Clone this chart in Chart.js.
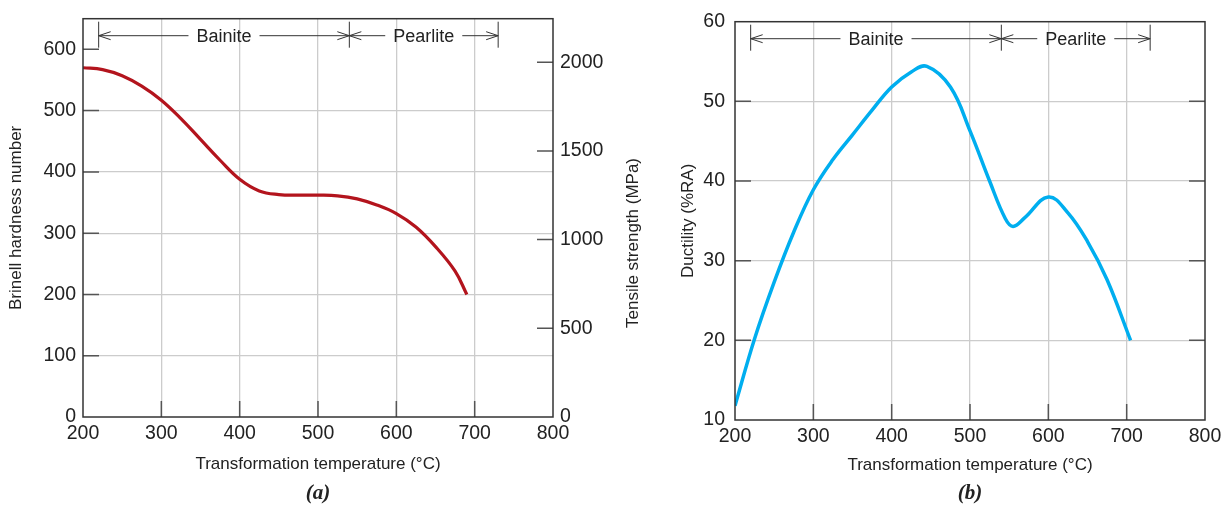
<!DOCTYPE html>
<html>
<head>
<meta charset="utf-8">
<script src="https://cdn.jsdelivr.net/npm/chart.js@4/dist/chart.umd.min.js"></script>
<style>
  body { margin: 0; background: #fff; width: 1228px; height: 508px; position: relative; overflow: hidden; }
  #wrapA { position: absolute; left: 0; top: 0; width: 660px; height: 508px; }
  #wrapB { position: absolute; left: 660px; top: 0; width: 568px; height: 508px; }
  .cap { position: absolute; top: 480px; font: bold italic 21px "Liberation Serif", "DejaVu Serif", serif; color: #222; transform: translateX(-50%); }
</style>
</head>
<body>
<div id="wrapA"><canvas id="chartA" width="660" height="508"></canvas></div>
<div id="wrapB"><canvas id="chartB" width="568" height="508"></canvas></div>
<div class="cap" style="left:318px">(a)</div>
<div class="cap" style="left:970px">(b)</div>
<script>
// values
const tempA = [200, 225, 250, 275, 300, 325, 350, 375, 400, 425, 450, 475, 500, 525, 550, 575, 600, 625, 650, 675, 690];
const hardness = [570, 567, 557, 540, 517, 487, 453, 419, 388, 369, 363, 362, 362, 361, 356, 346, 332, 310, 278, 238, 200];

const tempB = [200, 225, 250, 275, 300, 325, 350, 375, 400, 425, 445, 475, 500, 525, 545, 555, 570, 600, 625, 650, 675, 705];
const ductility = [11.8, 20.2, 27.3, 33.6, 38.9, 42.7, 45.8, 48.9, 51.8, 53.7, 54.4, 51.8, 46.3, 40, 35.3, 34.3, 35.4, 38, 36, 32.4, 27.6, 20];

const tempTicks = [200, 300, 400, 500, 600, 700, 800];
const hardnessTicks = [0, 100, 200, 300, 400, 500, 600];
const tensileTicks = [0, 500, 1000, 1500, 2000];
const ductilityTicks = [10, 20, 30, 40, 50, 60];

const phaseBounds = [220, 540, 730];
const phaseNames = ['Bainite', 'Pearlite'];

Chart.defaults.font.family = '"Liberation Sans", Arial, sans-serif';
Chart.defaults.color = '#222';

const GRID = '#cccccc';
const TICK = 16;

function gridColor(lo, hi, skip) {
    return (c) => (c.tick && c.tick.value > lo && c.tick.value < hi && !(skip || []).includes(c.tick.value)) ? GRID : 'rgba(0,0,0,0)';
}

function useTicks(list) {
    return (s) => { s.ticks = list.map(v => ({ value: v })); };
}

const plain = (v) => String(v);

function xScale(h) {
    return {
        type: 'linear', min: 200, max: 800,
        afterBuildTicks: useTicks(tempTicks),
        afterFit: (s) => { s.height = h; },
        grid: { drawTicks: false, lineWidth: 1.3, color: gridColor(200, 800) },
        border: { display: false },
        ticks: { padding: 5, font: { size: 19.5 }, maxRotation: 0, autoSkip: false, callback: plain },
        title: { display: true, text: 'Transformation temperature (°C)', font: { size: 17 }, padding: { top: 0, bottom: 2 } }
    };
}

// frame, inward tick marks, phase brackets, extra rotated title
const decor = {
    id: 'decor',
    afterDraw(chart, args, opts) {
        const { ctx, chartArea: a, scales } = chart;
        const x = scales.x;
        ctx.save();

        ctx.strokeStyle = '#555';
        ctx.lineWidth = 1.5;
        ctx.beginPath();
        x.ticks.forEach(t => {
            const px = x.getPixelForValue(t.value);
            if (px > a.left + 1 && px < a.right - 1) { ctx.moveTo(px, a.bottom); ctx.lineTo(px, a.bottom - TICK); }
        });
        scales.y.ticks.forEach(t => {
            const py = scales.y.getPixelForValue(t.value);
            if (py > a.top + 1 && py < a.bottom - 1) {
                ctx.moveTo(a.left, py); ctx.lineTo(a.left + TICK, py);
                if (opts.mirror) { ctx.moveTo(a.right, py); ctx.lineTo(a.right - TICK, py); }
            }
        });
        if (scales.y2) {
            scales.y2.ticks.forEach(t => {
                const py = scales.y2.getPixelForValue(t.value);
                if (py > a.top + 1 && py < a.bottom - 1) { ctx.moveTo(a.right, py); ctx.lineTo(a.right - TICK, py); }
            });
        }
        ctx.stroke();

        ctx.strokeStyle = '#333';
        ctx.lineWidth = 1.5;
        ctx.strokeRect(a.left, a.top, a.right - a.left, a.bottom - a.top);

        // phase brackets
        const by = a.top + 17;
        const pb = phaseBounds.map(v => x.getPixelForValue(v));
        ctx.lineWidth = 1;
        ctx.strokeStyle = '#333';
        ctx.fillStyle = '#222';
        ctx.font = '18px "Liberation Sans", Arial, sans-serif';
        ctx.textAlign = 'center';
        ctx.textBaseline = 'middle';
        ctx.beginPath();
        pb.forEach(p => { ctx.moveTo(p, a.top + 3); ctx.lineTo(p, a.top + 29); });
        phaseNames.forEach((name, i) => {
            const l = pb[i], r = pb[i + 1], mid = (l + r) / 2;
            const w = ctx.measureText(name).width / 2 + 8;
            ctx.moveTo(l, by); ctx.lineTo(mid - w, by);
            ctx.moveTo(mid + w, by); ctx.lineTo(r, by);
            ctx.moveTo(l + 12, by - 4); ctx.lineTo(l, by); ctx.lineTo(l + 12, by + 4);
            ctx.moveTo(r - 12, by - 4); ctx.lineTo(r, by); ctx.lineTo(r - 12, by + 4);
            ctx.fillText(name, mid, by + 1);
        });
        ctx.stroke();

        if (opts.sideTitle) {
            ctx.translate(opts.sideTitle.x, opts.sideTitle.y);
            ctx.rotate(-Math.PI / 2);
            ctx.font = '17px "Liberation Sans", Arial, sans-serif';
            ctx.fillText(opts.sideTitle.text, 0, 0);
        }
        ctx.restore();
    }
};

new Chart(document.getElementById('chartA'), {
    type: 'line',
    data: {
        datasets: [{
            data: tempA.map((t, i) => ({ x: t, y: hardness[i] })),
            borderColor: '#b3141d',
            borderWidth: 3.2,
            pointRadius: 0,
            tension: 0.4,
            yAxisID: 'y'
        }]
    },
    options: {
        responsive: false,
        animation: false,
        layout: { padding: { top: 14, bottom: 31, left: 0, right: 0 } },
        scales: {
            x: xScale(60),
            y: {
                type: 'linear', min: 0, max: 650,
                afterBuildTicks: useTicks(hardnessTicks),
                afterFit: (s) => { s.width = 83; },
                grid: { drawTicks: false, lineWidth: 1.3, color: gridColor(0, 650, [600]) },
                border: { display: false },
                ticks: { padding: 7, font: { size: 19.5 }, callback: plain },
                title: { display: true, text: 'Brinell hardness number', font: { size: 17 }, padding: { top: 6, bottom: 0 } }
            },
            y2: {
                type: 'linear', position: 'right', min: 0, max: 2245,
                afterBuildTicks: useTicks(tensileTicks),
                afterFit: (s) => { s.width = 107; },
                grid: { display: false, drawTicks: false },
                border: { display: false },
                ticks: { padding: 7, font: { size: 19.5 }, callback: plain }
            }
        },
        plugins: {
            legend: { display: false },
            tooltip: { enabled: false },
            decor: { sideTitle: { text: 'Tensile strength (MPa)', x: 633, y: 243 } }
        }
    },
    plugins: [decor]
});

new Chart(document.getElementById('chartB'), {
    type: 'line',
    data: {
        datasets: [{
            data: tempB.map((t, i) => ({ x: t, y: ductility[i] })),
            borderColor: '#00aeef',
            borderWidth: 3.5,
            pointRadius: 0,
            tension: 0.4
        }]
    },
    options: {
        responsive: false,
        animation: false,
        layout: { padding: { top: 15, bottom: 30, left: 0, right: 23 } },
        scales: {
            x: xScale(58),
            y: {
                type: 'linear', min: 10, max: 60,
                afterBuildTicks: useTicks(ductilityTicks),
                afterFit: (s) => { s.width = 75; },
                grid: { drawTicks: false, lineWidth: 1.3, color: gridColor(10, 60) },
                border: { display: false },
                ticks: { padding: 10, font: { size: 19.5 }, callback: plain },
                title: { display: true, text: 'Ductility (%RA)', font: { size: 17 }, padding: { top: 18, bottom: 0 } }
            }
        },
        plugins: {
            legend: { display: false },
            tooltip: { enabled: false },
            decor: { mirror: true }
        }
    },
    plugins: [decor]
});
</script>
</body>
</html>
